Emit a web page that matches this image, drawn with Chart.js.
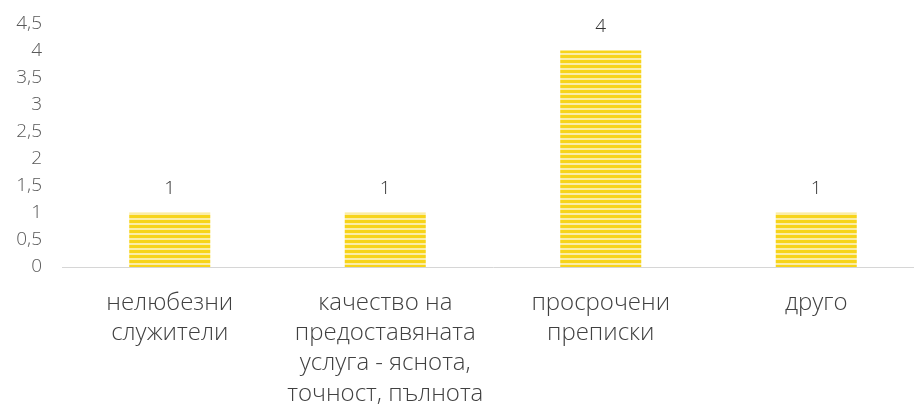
<!DOCTYPE html>
<html>
<head>
<meta charset="utf-8">
<script src="https://cdn.jsdelivr.net/npm/chart.js@4"></script>
<style>
  html, body { margin: 0; padding: 0; background: #fff; overflow: hidden; }
  #wrap { width: 940px; height: 419px; }
</style>
</head>
<body>
<div id="wrap"><canvas id="chart"></canvas></div>
<script>
const categories = [
    ['нелюбезни', 'служители'],
    ['качество на', 'предоставяната', 'услуга - яснота,', 'точност, пълнота'],
    ['просрочени', 'преписки'],
    ['друго']
];
const values = [1, 1, 4, 1];
const yMax = 4.5;
const yStep = 0.5;

// striped yellow fill, like a scanned print
function stripes() {
    let c = document.createElement('canvas');
    c.width = 4;
    c.height = 5;
    let g = c.getContext('2d');
    g.fillStyle = '#fbeda6';
    g.fillRect(0, 0, 4, 5);
    g.fillStyle = '#f7d41a';
    g.fillRect(0, 0, 4, 3);
    return g.createPattern(c, 'repeat');
}

// value above each bar
const valueLabels = {
    id: 'valueLabels',
    afterDatasetsDraw(chart) {
        let ctx = chart.ctx;
        let meta = chart.getDatasetMeta(0);
        ctx.save();
        ctx.font = '300 19px "Open Sans"';
        ctx.fillStyle = '#333333';
        ctx.textAlign = 'center';
        ctx.textBaseline = 'middle';
        meta.data.forEach((bar, i) => {
            ctx.fillText(String(values[i]), bar.x, bar.y - 24);
        });
        ctx.restore();
    }
};

let chart = new Chart(document.getElementById('chart'), {
    type: 'bar',
    data: {
        labels: categories,
        datasets: [{
            data: values,
            backgroundColor: stripes(),
            borderWidth: 0,
            categoryPercentage: 1,
            barPercentage: 0.376
        }]
    },
    options: {
        responsive: true,
        maintainAspectRatio: false,
        animation: false,
        layout: { padding: { top: 22, right: 16, left: 0, bottom: 0 } },
        plugins: {
            legend: { display: false },
            tooltip: { enabled: false }
        },
        scales: {
            y: {
                min: 0,
                max: yMax,
                grid: { display: false },
                border: { display: false },
                afterFit: (scale) => { scale.width = 62; },
                ticks: {
                    stepSize: yStep,
                    padding: 12,
                    color: '#595959',
                    font: { family: 'Open Sans', size: 19, weight: 300 },
                    callback: (v) => String(v).replace('.', ',')
                }
            },
            x: {
                grid: { display: false },
                border: { color: '#d6d6d6', width: 1 },
                afterFit: (scale) => { scale.height = 152; },
                ticks: {
                    padding: 13,
                    maxRotation: 0,
                    autoSkip: false,
                    color: '#404040',
                    font: { family: 'Open Sans', size: 24, weight: 300, lineHeight: 1.26 }
                }
            }
        }
    },
    plugins: [valueLabels]
});
</script>
</body>
</html>
